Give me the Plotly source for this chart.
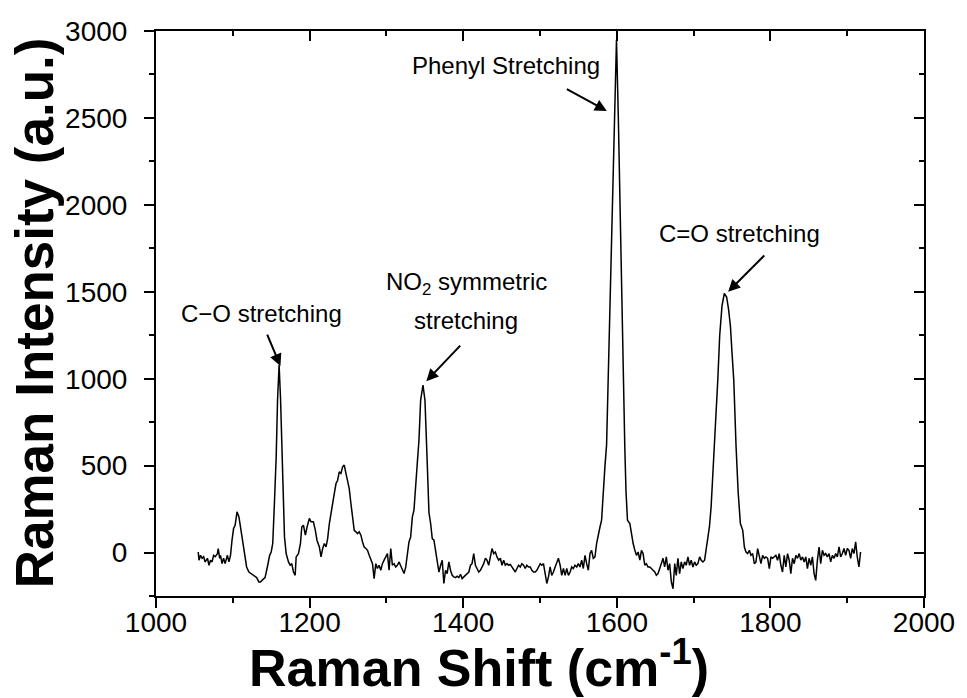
import plotly.graph_objects as go

# Raman spectrum
raman_shift = [
    1055, 1056, 1058, 1060, 1062, 1064, 1067, 1069, 1071, 1073, 1075, 1077, 1080, 1081, 1083, 1084,
    1086, 1088, 1090, 1093, 1095, 1097, 1099, 1101, 1103, 1105.5, 1108, 1110, 1112, 1114, 1116, 1118,
    1121, 1124, 1128, 1131, 1134, 1136, 1139, 1142, 1145, 1147, 1148, 1150, 1152, 1154, 1156.5,
    1158.3, 1160.3, 1162.2, 1163.8, 1165.1, 1167.3, 1169.5, 1172.5, 1174.7, 1176.8, 1179, 1181.2,
    1182.5, 1185.5, 1188.1, 1189.8, 1192, 1194.5, 1196.7, 1199.7, 1201.9, 1204.9, 1207.5, 1209.6,
    1212.7, 1214.9, 1217, 1219.2, 1221.4, 1223.5, 1225.7, 1227.9, 1230, 1232.2, 1234.4, 1236.5,
    1238.6, 1240.8, 1243, 1245.1, 1247.3, 1249.5, 1251.6, 1253.8, 1256, 1258.1, 1260.3, 1262.4,
    1264.6, 1266.8, 1268.9, 1271.1, 1273.3, 1275.4, 1277.6, 1279.8, 1281.9, 1284, 1286.2, 1288.3,
    1290.5, 1292.7, 1294.8, 1297, 1299.2, 1301.3, 1303.5, 1305.7, 1307.8, 1310, 1312.1, 1314.3,
    1316.5, 1318.6, 1320.8, 1323, 1325.2, 1327.3, 1329.4, 1331.6, 1333.8, 1335.9, 1338.1, 1340.2,
    1342.4, 1344.6, 1347.6, 1350.2, 1353.2, 1355.4, 1357.6, 1359.7, 1361.9, 1364.1, 1366.2, 1368.4,
    1370.6, 1372.7, 1374.8, 1377, 1379.1, 1381.3, 1383.5, 1385.6, 1387.8, 1390, 1392.1, 1394.3,
    1396.5, 1398.6, 1400.8, 1403, 1405.1, 1407.3, 1409.5, 1411.5, 1413.7, 1415.9, 1418, 1420.2,
    1422.4, 1424.5, 1426.7, 1428.9, 1431, 1433.2, 1435.4, 1437.5, 1439.7, 1441.9, 1444, 1446.2,
    1448.4, 1450.5, 1452.7, 1454.8, 1457, 1459.1, 1461.3, 1463.5, 1465.6, 1467.8, 1470, 1472.1,
    1474.3, 1476.4, 1478.6, 1480.8, 1482.9, 1485.1, 1487.3, 1489.4, 1491.6, 1493.8, 1495.9, 1498.1,
    1500.3, 1502.4, 1504.5, 1506.7, 1508.9, 1511, 1513.2, 1515.3, 1517.5, 1519.7, 1521.8, 1524,
    1526.2, 1528.3, 1530.5, 1532.7, 1534.8, 1537, 1539.2, 1541.3, 1543.4, 1545.6, 1547.8, 1549.9,
    1552.1, 1554.3, 1556.4, 1558.6, 1560.8, 1562.9, 1565.1, 1567.2, 1569.4, 1571.6, 1573.7, 1575.9,
    1578.1, 1580.2, 1582.4, 1584.5, 1586.7, 1588.8, 1591.5, 1594.5, 1597, 1599.6, 1602, 1604.4,
    1606.5, 1608.3, 1610.4, 1612, 1613.9, 1617, 1619, 1621.3, 1623.5, 1625.6, 1627.8, 1630,
    1632.1, 1634.2, 1636.4, 1638.5, 1640.7, 1642.9, 1645, 1647.2, 1649.4, 1651.5, 1653.7, 1655.9,
    1658, 1660.2, 1662.3, 1664.5, 1666.7, 1668.8, 1671, 1673.2, 1675.4, 1677.4, 1679.6, 1681.8,
    1683.9, 1686.1, 1688.3, 1690.4, 1692.6, 1694.8, 1696.9, 1699.1, 1701.3, 1703.4, 1705.6, 1707.8,
    1709.9, 1712.1, 1714.3, 1716.3, 1718.5, 1720.6, 1722.8, 1725, 1727.2, 1729.4, 1731.5, 1734,
    1737, 1740, 1743, 1745.5, 1748, 1750, 1752.3, 1755.3, 1758, 1760.9, 1764, 1766.1, 1768.2,
    1770.4, 1772.6, 1774.7, 1776.9, 1779.1, 1781.2, 1783.4, 1785.6, 1787.7, 1789.9, 1792.1, 1794.2,
    1796.4, 1798.6, 1800.7, 1802.9, 1805.1, 1807.1, 1809.3, 1811.5, 1813.6, 1815.8, 1818, 1820.1,
    1822.3, 1824.5, 1826.6, 1828.8, 1831, 1833.1, 1835.3, 1837.5, 1839.6, 1841.8, 1843.9, 1846.1,
    1848.2, 1850.4, 1852.6, 1854.7, 1856.9, 1859, 1861.2, 1863.4, 1865.5, 1867.7, 1869.9, 1872,
    1874.2, 1876.4, 1878.5, 1880.7, 1882.9, 1885, 1887.2, 1889.4, 1891.5, 1893.7, 1895.8, 1898,
    1900.1, 1902.3, 1904.5, 1906.6, 1908.8, 1911, 1913.1, 1915.3, 1917.4,
]
raman_intensity = [
    3, -44, -16, -33, -24, -54, -33, -73, -44, -54, -16, -24, -6, 23, -33, -16,
    -64, -33, -64, -16, -54, -16, 71, 138, 157, 234, 205, 147, 80, 32, -25, -83,
    -112, -121, -136, -144, -169, -169, -156, -144, -83, -25, -16, 3, 52, 262, 550,
    880, 1080, 880, 620, 359, 90, -6, -54, -73, -64, -112, -131,
    -25, -6, 52, 147, 157, 100, 147, 196, 177, 177, 128, 71,
    32, -25, 23, 52, 32, 80, 167, 234, 301, 340, 397, 416,
    464, 455, 493, 503, 455, 416, 368, 282, 186, 128, 119, 109,
    119, 100, 61, 32, 23, 13, -16, -44, -64, -150, -64, -92,
    -73, -102, -64, -44, -25, -6, -102, 23, -73, -64, -83, -73,
    -54, -73, -102, -121, -83, -6, 61, 90, 205, 244, 359, 512,
    646, 877, 963, 877, 512, 230, 167, 80, 71, 3, -73, -112,
    -73, -44, -178, -102, -121, -54, -102, -131, -140, -144, -136, -144,
    -125, -150, -140, -131, -121, -112, -73, -64, -6, -73, -92, -112,
    -102, -83, -64, -33, -44, -73, -25, 23, -6, 3, -25, -44,
    -33, -73, -44, -73, -64, -73, -68, -83, -102, -112, -92, -73,
    -83, -64, -73, -92, -73, -83, -83, -102, -112, -112, -102, -83,
    -64, -73, -64, -121, -178, -140, -83, -131, -112, -83, -54, -33,
    -73, -131, -92, -131, -92, -131, -112, -83, -92, -73, -83, -64,
    -83, -44, -92, -16, -64, -102, -6, 13, -33, -25, 52, 109,
    147, 186, 359, 493, 620, 992, 1450, 1914, 2450, 2950, 2500, 1914,
    1450, 992, 608, 350, 186, 167, 100, 52, 13, -16, 3, -44,
    13, -6, -73, -64, -83, -83, -92, -102, -112, -131, -121, -92,
    -64, -33, -83, -25, -102, -64, -169, -208, -64, -131, -33, -121,
    -54, -92, -54, -73, -25, -73, -44, -83, -54, -73, -64, -25,
    -44, -54, -44, 13, 100, 147, 262, 430, 646, 800, 992, 1250,
    1420, 1490, 1470, 1400, 1300, 1150, 992, 608, 350, 167, 128, 32, 3,
    -6, 13, -16, -6, -64, -54, 23, -25, -64, -16, -33, -25,
    -33, -92, -25, -33, -25, -16, -44, -6, -73, -112, -16, -83,
    -6, -44, -121, -33, -64, -16, -33, -6, -44, -25, -54, -25,
    -92, -33, -73, -25, -121, -160, -44, 32, -64, 13, -16, -6,
    -25, -6, -54, -16, -33, -6, -25, 32, -25, -6, 23, -16,
    23, 13, -33, 23, -6, 61, -25, -83, 3,
]

# axis settings
x_range = [1000, 2000]
y_range = [-250, 3000]
x_title = "Raman Shift (cm<sup>-1</sup>)"
y_title = "Raman Intensity (a.u.)"

# annotation labels: (text, x, y)
labels = [
    ("Phenyl Stretching", 1456, 2800),
    ("C=O stretching", 1760, 1838),
    ("NO<sub>2</sub> symmetric", 1404, 1545),
    ("stretching", 1404, 1332),
    ("C\u2212O stretching", 1137, 1377),
]
# arrows: (tail x, tail y, head x, head y)
arrows = [
    (1533, 2671, 1587, 2540),
    (1794, 1717, 1745, 1500),
    (1398, 1199, 1352, 986),
    (1144, 1262, 1162, 1073),
]

FONT = "Liberation Sans, Arial, sans-serif"

fig = go.Figure()
fig.add_trace(go.Scatter(x=raman_shift, y=raman_intensity, mode="lines",
                         line=dict(color="black", width=1.5), showlegend=False,
                         hoverinfo="skip"))
fig.add_trace(go.Scatter(x=[None], y=[None], xaxis="x2", yaxis="y2",
                         showlegend=False, hoverinfo="skip"))

common = dict(showline=True, linecolor="black", linewidth=2, showgrid=False,
              zeroline=False, tickcolor="black", tickwidth=2, ticklen=10)

fig.update_layout(
    width=967, height=698,
    margin=dict(l=156, r=40, t=31, b=102),
    paper_bgcolor="white", plot_bgcolor="white",
    font=dict(family=FONT, color="black"),
    xaxis=dict(range=x_range, tick0=1000, dtick=200, ticks="outside",
               tickfont=dict(size=28, family=FONT), ticklabelstandoff=-10,
               minor=dict(dtick=100, ticks="outside", ticklen=5, tickwidth=2, tickcolor="black"),
               **common),
    yaxis=dict(range=y_range, tick0=0, dtick=500, ticks="outside",
               tickfont=dict(size=28, family=FONT), ticklabelstandoff=11,
               minor=dict(dtick=250, ticks="outside", ticklen=5, tickwidth=2, tickcolor="black"),
               **common),
    xaxis2=dict(range=x_range, overlaying="x", side="top", anchor="y2", tick0=1000, dtick=200,
                ticks="inside", showticklabels=False,
                minor=dict(dtick=100, ticks="inside", ticklen=5, tickwidth=2, tickcolor="black"),
                **common),
    yaxis2=dict(range=y_range, overlaying="y", side="right", anchor="x2", tick0=0, dtick=500,
                ticks="inside", showticklabels=False,
                minor=dict(dtick=250, ticks="inside", ticklen=5, tickwidth=2, tickcolor="black"),
                **common),
)

for text, x, y in labels:
    fig.add_annotation(x=x, y=y, xref="x", yref="y", text=text, showarrow=False,
                       font=dict(size=24, family=FONT, color="black"))

for tx, ty, hx, hy in arrows:
    fig.add_annotation(x=hx, y=hy, ax=tx, ay=ty, xref="x", yref="y", axref="x", ayref="y",
                       text="", showarrow=True, arrowhead=2, arrowsize=1.2, arrowwidth=2,
                       arrowcolor="black")

fig.add_annotation(x=1420, y=-0.121, xref="x", yref="paper", text=x_title, showarrow=False,
                   xanchor="center", yanchor="middle",
                   font=dict(size=52, family=FONT, color="black", weight="bold"))
fig.add_annotation(x=-0.158, y=1380, xref="paper", yref="y", text=y_title, showarrow=False,
                   textangle=-90, xanchor="center", yanchor="middle",
                   font=dict(size=53, family=FONT, color="black", weight="bold"))

fig.write_html("out.html")
